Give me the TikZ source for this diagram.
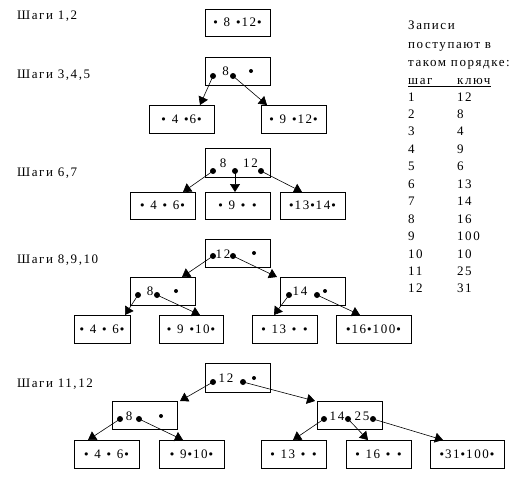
\documentclass[tikz,border=0pt]{standalone}
\usepackage{fontspec}
\setmainfont{Liberation Serif}[LetterSpace=12]
\newfontfamily\dvfont{DejaVu Sans}
\newcommand{\bul}{{\dvfont\fontsize{11}{13}\selectfont •}}
\usetikzlibrary{arrows.meta}
\begin{document}
\begin{tikzpicture}[x=1pt,y=-1pt,
  box/.style={draw,line width=0.8pt,inner sep=0pt,minimum height=28,minimum width=65,font=\fontsize{13}{15}\selectfont},
  lbl/.style={anchor=base west,inner sep=0pt,font=\fontsize{13}{15}\selectfont},
  num/.style={anchor=base,inner sep=0pt,font=\fontsize{13}{15}\selectfont},
  bigdot/.style={circle,fill,inner sep=0pt,minimum size=6},
  smalldot/.style={circle,fill,inner sep=0pt,minimum size=4},
  arr/.style={line width=0.6pt,-{Triangle[length=8,width=10]}}]
\useasboundingbox (0,0) rectangle (531,477);
% left labels
\node[lbl] (s1) at (17,19) {Шаги 1,2};
\node[lbl] (s2) at (17,78) {Шаги 3,4,5};
\node[lbl] (s3) at (17,176) {Шаги 6,7};
\node[lbl] (s4) at (17,263) {Шаги 8,9,10};
\node[lbl] (s5) at (17,387) {Шаги 11,12};
% right table
\node[lbl] (h1) at (408,29) {Записи};
\node[lbl] (h2) at (408,48) {поступают в};
\node[lbl] (h3) at (408,66) {таком порядке:};
\node[lbl] (h4) at (408,84) {шаг};
\node[lbl] (h5) at (457,84) {ключ};
\draw[line width=0.6pt] (h4.base west)++(0,2) coordinate (ul1) -- (ul1 -| h5.east);
\foreach \s/\k [count=\i from 0] in {1/12,2/8,3/4,4/9,5/6,6/13,7/14,8/16,9/100,10/10,11/25,12/31}{
  \node[lbl] (ts\i) at (408,101+17.45*\i) {\s};
  \node[lbl] (tk\i) at (457,101+17.45*\i) {\k};
}
% ===== step 1,2
\node[box,minimum height=27] (a1) at (237.5,22.5) {\bul{} 8 \bul12\bul};
% ===== step 3,4,5
\node[box] (b0) at (237.5,71) {};
\node[num] (b0n) at (225.5,75) {8};
\node[bigdot] (b0d1) at (213,76) {};
\node[bigdot] (b0d2) at (233,76) {};
\node[smalldot] (b0d3) at (251,71) {};
\node[box] (b1) at (181.5,119) {\bul{} 4 \bul6\bul};
\node[box] (b2) at (293.5,119) {\bul{} 9 \bul12\bul};
\coordinate (b1t) at (200,105);
\coordinate (b2t) at (267,105);
\draw[arr] (b0d1.center) -- (b1t);
\draw[arr] (b0d2.center) -- (b2t);
% ===== step 6,7
\node[box,minimum height=29] (c0) at (237.5,162.5) {};
\node[num] (c0n1) at (223,167) {8};
\node[num] (c0n2) at (250.5,167) {12};
\node[bigdot] (c0d1) at (213,171) {};
\node[bigdot] (c0d2) at (235,171) {};
\node[bigdot] (c0d3) at (261,171) {};
\node[box,minimum height=27] (c1) at (162.5,205.5) {\bul{} 4 \bul{} 6\bul};
\node[box,minimum height=27] (c2) at (237.5,205.5) {\bul{} 9 \bul{} \bul};
\node[box,minimum height=27] (c3) at (312.5,205.5) {\bul13\bul14\bul};
\coordinate (c1t) at (183,192);
\coordinate (c2t) at (235,192);
\coordinate (c3t) at (302,192);
\draw[arr] (c0d1.center) -- (c1t);
\draw[arr] (c0d2.center) -- (c2t);
\draw[arr] (c0d3.center) -- (c3t);
% ===== step 8,9,10
\node[box] (d0) at (237.5,253) {};
\node[num] (d0n) at (223,258) {12};
\node[bigdot] (d0d1) at (213,256) {};
\node[bigdot] (d0d2) at (233,256) {};
\node[smalldot] (d0d3) at (254,253) {};
\node[box] (d1) at (162.5,291) {};
\node[num] (d1n) at (150,295) {8};
\node[bigdot] (d1d1) at (138,295) {};
\node[bigdot] (d1d2) at (157,295) {};
\node[smalldot] (d1d3) at (176,291) {};
\node[box] (d2) at (312.5,291) {};
\node[num] (d2n) at (300,295) {14};
\node[bigdot] (d2d1) at (289,295) {};
\node[bigdot] (d2d2) at (317,295) {};
\node[smalldot] (d2d3) at (325,291) {};
\node[box,minimum width=56] (d3) at (102,329) {\bul{} 4 \bul{} 6\bul};
\node[box,minimum width=64] (d4) at (191,329) {\bul{} 9 \bul10\bul};
\node[box] (d5) at (284.5,329) {\bul{} 13 \bul{} \bul};
\node[box,minimum width=75] (d6) at (373.5,329) {\bul16\bul100\bul};
\coordinate (d1t) at (182,277);
\coordinate (d2t) at (277,277);
\coordinate (d3t) at (125,315);
\coordinate (d4t) at (200,315);
\coordinate (d5t) at (274,315);
\coordinate (d6t) at (360,315);
\draw[arr] (d0d1.center) -- (d1t);
\draw[arr] (d0d2.center) -- (d2t);
\draw[arr] (d1d1.center) -- (d3t);
\draw[arr] (d1d2.center) -- (d4t);
\draw[arr] (d2d1.center) -- (d5t);
\draw[arr] (d2d2.center) -- (d6t);
% ===== step 11,12
\node[box,minimum height=29] (e0) at (237.5,377.5) {};
\node[num] (e0n) at (226,382) {12};
\node[bigdot] (e0d1) at (213,382) {};
\node[bigdot] (e0d2) at (243,382) {};
\node[smalldot] (e0d3) at (254,378) {};
\node[box] (e1) at (144.5,415) {};
\node[num] (e1n) at (129,420) {8};
\node[bigdot] (e1d1) at (120,419) {};
\node[bigdot] (e1d2) at (139,419) {};
\node[smalldot] (e1d3) at (161,416) {};
\node[box] (e2) at (349.5,415) {};
\node[num] (e2n1) at (337,420) {14};
\node[num] (e2n2) at (362,420) {25};
\node[bigdot] (e2d1) at (324,419) {};
\node[bigdot] (e2d2) at (348,419) {};
\node[bigdot] (e2d3) at (373,419) {};
\node[box] (e3) at (106.5,454) {\bul{} 4 \bul{} 6\bul};
\node[box] (e4) at (191.5,454) {\bul{} 9\bul10\bul};
\node[box] (e5) at (293.5,454) {\bul{} 13 \bul{} \bul};
\node[box] (e6) at (378.5,454) {\bul{} 16 \bul{} \bul};
\node[box,minimum width=74] (e7) at (467,454) {\bul31\bul100\bul};
\coordinate (e1t) at (180,401);
\coordinate (e2t) at (315,401);
\coordinate (e3t) at (88,440);
\coordinate (e4t) at (183,440);
\coordinate (e5t) at (293,440);
\coordinate (e6t) at (368,440);
\coordinate (e7t) at (443,440);
\draw[arr] (e0d1.center) -- (e1t);
\draw[arr] (e0d2.center) -- (e2t);
\draw[arr] (e1d1.center) -- (e3t);
\draw[arr] (e1d2.center) -- (e4t);
\draw[arr] (e2d1.center) -- (e5t);
\draw[arr] (e2d2.center) -- (e6t);
\draw[arr] (e2d3.center) -- (e7t);
\end{tikzpicture}
\end{document}
